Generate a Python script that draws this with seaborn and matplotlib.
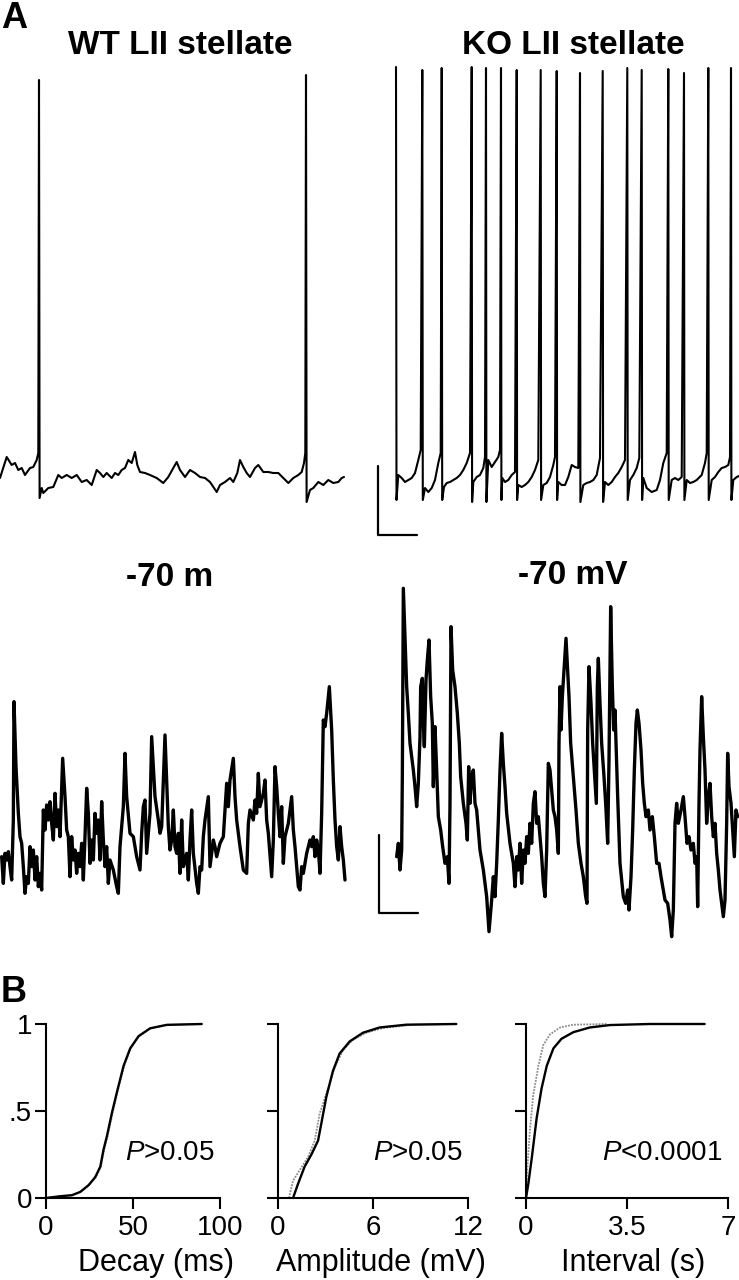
import matplotlib
matplotlib.use("Agg")
import matplotlib.pyplot as plt
import seaborn as sns
import pandas as pd

W, H = 739, 1280

# ---------------- panel A traces (picture units, v grows downward) ----------------
wt_spont = [
    (0, 478), (6.7, 457), (11.7, 465), (15, 463), (18.3, 470), (21.7, 468), (25, 475), (30, 468),
    (33.3, 467), (36.7, 460), (38.3, 453), (39, 80), (39.6, 498), (41.7, 488), (43.3, 493), (48.3, 488),
    (53.3, 487), (58.3, 475), (61.7, 478), (66.7, 475), (71.7, 478), (76.7, 475), (81.7, 482), (86.7, 480),
    (91.7, 485), (96.7, 470), (100, 473), (103.3, 477), (106.7, 473), (111.7, 478), (115, 473), (118.3, 475),
    (121.7, 470), (125, 468), (128.3, 460), (131.7, 463), (135, 452), (137.3, 465), (140, 472), (145, 473),
    (150, 475), (156.7, 478), (163.3, 483), (168.3, 477), (173.3, 468), (176.7, 462), (180, 470), (185, 477),
    (190, 470), (195, 473), (200, 477), (205, 478), (210, 482), (216.7, 492), (220, 485), (225, 482),
    (230, 478), (233.3, 482), (237.3, 473), (240, 460), (243.3, 467), (246.7, 473), (250, 477), (255, 468),
    (258.3, 465), (263.3, 472), (268.3, 472), (273.3, 473), (278.3, 473), (283.3, 478), (288.3, 483),
    (293.3, 478), (298.3, 475), (301.7, 472), (304, 463), (305.3, 453), (306, 75), (306.6, 502), (310, 490),
    (313.3, 488), (318.3, 482), (323.3, 485), (328.3, 480), (333.3, 483), (338.3, 482), (341.7, 478), (344, 477),
]

ko_spont = [
    (396, 67), (396.5, 500),
    (398.3, 475), (401.7, 478), (405, 482), (408.3, 480), (411.7, 478), (415, 473), (418.3, 460), (420.7, 450),
    (422.3, 70), (422.8, 500),
    (425, 488), (428.3, 492), (431.7, 488), (435, 480), (438.3, 463), (440.7, 453), (441.7, 68), (442.2, 500),
    (444, 487), (446.7, 483), (450, 482), (453.3, 480), (456.7, 478), (460, 475), (463.3, 470), (466.7, 463),
    (470, 453), (471.7, 67), (472.1, 502),
    (473.3, 482), (476.7, 477), (480, 475), (483.3, 468), (485, 457), (486, 68), (486.4, 502),
    (488.3, 460), (491.7, 467), (495, 462), (498.3, 457), (500, 450), (501, 68), (501.4, 500),
    (502.3, 478), (505, 482), (508.3, 480), (511.7, 475), (515, 472), (516.7, 70), (517.1, 500),
    (518.3, 485), (521.7, 487), (525, 485), (528.3, 482), (531.7, 477), (535, 470), (538.3, 460),
    (540.7, 70), (541.1, 500),
    (543.3, 485), (546.7, 483), (550, 477), (553.3, 465), (555, 457), (556.7, 71), (557.1, 500),
    (558.3, 482), (561.7, 485), (565, 485), (568.3, 477), (571.7, 465), (575, 467), (578.3, 468),
    (580, 73), (580.4, 502),
    (583.3, 485), (586.7, 483), (590, 482), (593.3, 480), (596.7, 475), (600, 458), (602.7, 71), (603.1, 502),
    (605, 482), (608.3, 485), (611.7, 482), (615, 477), (618.3, 473), (621.7, 467), (625, 460),
    (627.3, 68), (627.7, 500),
    (630, 480), (633.3, 475), (636.7, 468), (639.3, 458), (641.7, 70), (642.1, 500),
    (643.3, 478), (646.7, 488), (651.7, 492), (656.7, 490), (660, 480), (663.3, 463), (666.7, 453),
    (668.3, 69), (668.7, 500),
    (671.7, 480), (675, 478), (678.3, 480), (681.7, 477), (684, 73), (684.4, 500),
    (686.7, 480), (690, 483), (693.3, 482), (696.7, 480), (701.7, 475), (705, 463), (706.7, 453),
    (708.3, 68), (708.7, 500),
    (711.7, 480), (715, 477), (718.3, 472), (721.7, 468), (725, 467), (728.3, 465), (730, 457),
    (731, 68), (731.4, 500),
    (733.3, 480), (736.7, 477), (739, 476),
]

wt_hold = [
    (5, 530), (10, 610), (15, 520), (20, 540), (25, 515), (30, 560), (35, 600), (40, 420), (42, 65), (48, 260),
    (55, 400), (60, 470), (65, 490), (70, 560), (75, 640), (80, 590), (85, 610), (90, 500), (95, 560), (100, 510),
    (105, 600), (110, 530), (115, 620), (120, 580), (125, 630), (130, 390), (135, 450), (140, 375), (145, 420),
    (150, 365), (155, 430), (160, 480), (165, 340), (170, 440), (175, 390), (180, 470), (185, 320), (188, 235),
    (195, 350), (200, 450), (205, 470), (210, 590), (215, 470), (220, 540), (225, 510), (230, 580), (235, 520),
    (240, 560), (245, 490), (250, 600), (255, 470), (260, 325), (265, 400), (270, 550), (275, 480), (280, 540),
    (285, 400), (290, 460), (295, 420), (300, 540), (305, 365), (310, 480), (315, 560), (320, 500), (325, 610),
    (330, 540), (340, 570), (350, 620), (355, 640), (360, 500), (370, 380), (375, 220), (380, 350), (390, 460),
    (400, 470), (410, 530), (420, 570), (425, 460), (430, 380), (435, 360), (440, 520), (450, 400), (455, 170),
    (460, 260), (465, 350), (475, 420), (480, 460), (485, 440), (495, 165), (500, 300), (505, 440), (510, 510),
    (515, 480), (520, 390), (525, 500), (530, 520), (535, 460), (540, 580), (545, 420), (550, 560), (560, 520),
    (565, 600), (570, 480), (575, 390), (580, 520), (590, 610), (595, 640), (600, 560), (605, 570), (610, 470),
    (615, 420), (625, 350), (630, 560), (640, 480), (645, 500), (650, 530), (660, 490), (670, 470), (680, 310),
    (685, 380), (690, 300), (700, 235), (705, 350), (710, 420), (720, 500), (730, 570), (740, 580), (745, 430),
    (750, 390), (760, 420), (765, 360), (770, 400), (775, 280), (780, 380), (790, 340), (795, 300), (800, 420),
    (805, 460), (815, 590), (820, 480), (825, 260), (830, 320), (835, 400), (840, 470), (845, 380), (850, 550),
    (855, 470), (865, 430), (875, 350), (880, 450), (885, 500), (895, 620), (900, 630), (905, 560), (910, 580),
    (920, 520), (930, 480), (935, 500), (940, 470), (945, 530), (950, 480), (955, 510), (960, 580), (965, 400),
    (970, 120), (975, 140), (980, 100), (988, 20), (995, 150), (1000, 300), (1005, 420), (1010, 500),
    (1015, 540), (1020, 440), (1025, 500), (1030, 540), (1035, 600),
]

ko_hold = [
    (80, 860), (85, 820), (90, 900), (95, 840), (97, 620), (100, 55), (105, 200), (110, 350), (115, 430),
    (120, 520), (125, 560), (130, 600), (135, 650), (140, 710), (145, 640), (150, 500), (152, 350), (157, 325),
    (160, 460), (163, 530), (168, 330), (172, 270), (177, 210), (182, 380), (187, 460), (190, 650), (195, 470),
    (200, 600), (205, 740), (212, 780), (218, 830), (225, 880), (232, 860), (237, 940), (240, 700), (243, 170),
    (248, 300), (255, 350), (262, 430), (268, 520), (272, 620), (280, 700), (288, 760), (292, 810), (296, 590),
    (300, 700), (305, 620), (310, 600), (315, 700), (320, 720), (325, 780), (330, 840), (340, 900), (345, 940),
    (350, 980), (357, 1085), (365, 990), (370, 920), (375, 980), (380, 880), (385, 750), (390, 600), (395, 490),
    (400, 580), (405, 650), (410, 730), (420, 820), (430, 880), (435, 950), (440, 860), (445, 900), (450, 820),
    (455, 940), (460, 840), (465, 880), (470, 800), (475, 850), (480, 760), (485, 820), (490, 700), (495, 665),
    (500, 760), (505, 740), (510, 800), (515, 860), (520, 940), (525, 980), (530, 840), (535, 580), (540, 600),
    (545, 660), (550, 720), (555, 740), (560, 780), (565, 850), (567, 520), (570, 350), (573, 480), (577, 380),
    (582, 300), (588, 205), (593, 300), (597, 380), (602, 520), (610, 620), (618, 720), (625, 820), (633, 880),
    (640, 920), (647, 980), (651, 1000), (653, 480), (657, 290), (663, 400), (668, 520), (673, 600), (679, 700),
    (682, 350), (685, 265), (690, 400), (695, 520), (702, 620), (707, 700), (713, 820), (717, 570), (722, 110),
    (727, 350), (731, 480), (735, 420), (738, 520), (743, 680), (750, 880), (755, 930), (760, 980), (767, 1000),
    (773, 960), (777, 1020), (783, 920), (788, 780), (793, 600), (798, 460), (802, 420), (807, 460), (813, 540),
    (818, 640), (823, 700), (828, 740), (835, 720), (840, 780), (847, 740), (853, 800), (860, 880), (867, 880),
    (873, 920), (878, 950), (885, 990), (893, 1000), (900, 1050), (905, 1100), (910, 1020), (915, 760),
    (920, 700), (925, 760), (933, 720), (940, 680), (945, 740), (951, 820), (957, 800), (963, 840), (970, 820),
    (975, 880), (980, 860), (983, 1010), (987, 700), (990, 540), (995, 380), (1000, 500), (1005, 600),
    (1010, 760), (1015, 680), (1020, 640), (1025, 740), (1030, 800), (1035, 760), (1040, 850), (1045, 900),
    (1050, 960), (1055, 1000), (1060, 1040), (1065, 990), (1070, 760), (1073, 550), (1077, 650), (1083, 700),
    (1088, 780), (1093, 860), (1098, 720), (1103, 740),
]

ko_spont_bar = [(378, 466), (378, 535), (417, 535)]
ko_hold_bar = [(27, 795), (27, 1029), (144, 1029)]

# ---------------- panel B cumulative fractions ----------------
decay_wt = [(0, 0), (8.2, 0.01), (14.9, 0.016), (19.7, 0.035), (24.5, 0.074), (28.3, 0.12), (31.2, 0.18),
            (33.1, 0.28), (35.0, 0.355), (37.9, 0.49), (40.8, 0.61), (44.6, 0.76), (48.4, 0.86), (53.2, 0.93),
            (59.8, 0.975), (69.4, 0.995), (89.5, 1.0)]
decay_ko = [(0, 0), (8.5, 0.01), (15.2, 0.017), (20.0, 0.037), (24.8, 0.076), (28.6, 0.12), (31.5, 0.18),
            (33.5, 0.28), (35.4, 0.355), (38.3, 0.49), (41.1, 0.61), (44.9, 0.76), (48.6, 0.86), (53.5, 0.93),
            (60.0, 0.975), (69.0, 0.995), (89.5, 1.0)]
amp_wt = [(0.95, 0), (1.26, 0.08), (1.68, 0.18), (2.11, 0.25), (2.53, 0.33), (2.74, 0.43), (3.05, 0.58),
          (3.47, 0.73), (3.89, 0.83), (4.53, 0.90), (5.37, 0.95), (6.42, 0.98), (8.1, 0.996), (11.26, 1.0)]
amp_ko = [(0.69, 0), (0.95, 0.10), (1.37, 0.16), (1.89, 0.235), (2.32, 0.33), (2.63, 0.485), (3.05, 0.60),
          (3.58, 0.75), (4.11, 0.85), (4.74, 0.91), (5.58, 0.95), (6.63, 0.977), (8.53, 0.996), (11.26, 1.0)]
int_wt = [(0, 0), (0.08, 0.08), (0.20, 0.23), (0.37, 0.46), (0.54, 0.63), (0.72, 0.76), (0.95, 0.86),
          (1.23, 0.915), (1.64, 0.953), (2.21, 0.98), (2.91, 0.994), (4.29, 1.0), (6.19, 1.0)]
int_ko = [(0, 0), (0.05, 0.18), (0.14, 0.40), (0.25, 0.59), (0.43, 0.76), (0.6, 0.88), (0.83, 0.94),
          (1.18, 0.98), (1.64, 0.996), (2.79, 1.0)]

frac_ticks = [0, 0.5, 1]
frac_labels = ["0", ".5", "1"]
decay_ticks = [0, 50, 100]
amp_ticks = [0, 6, 12]
int_ticks = [0, 3.5, 7]
int_labels = ["0", "3.5", "7"]

sns.set_theme(style="ticks")
plt.rcParams["font.family"] = ["Liberation Sans", "DejaVu Sans"]
plt.rcParams["mathtext.fontset"] = "custom"
plt.rcParams["mathtext.it"] = "Liberation Sans:italic"
plt.rcParams["mathtext.rm"] = "Liberation Sans"
for key in ("text.color", "axes.labelcolor", "xtick.color", "ytick.color", "axes.edgecolor"):
    plt.rcParams[key] = "black"

fig = plt.figure(figsize=(W / 100, H / 100), dpi=100)


def px_axes(left, top, right, bottom):
    return fig.add_axes([left / W, 1 - bottom / H, (right - left) / W, (bottom - top) / H])


def draw(ax, pts, lw, color="black", ls="-"):
    df = pd.DataFrame(pts, columns=["t", "v"])
    sns.lineplot(data=df, x="t", y="v", sort=False, estimator=None, color=color,
                 lw=lw, ls=ls, ax=ax, clip_on=False)


def ftext(x, y, s, size, **kw):
    fig.text(x / W, 1 - y / H, s, fontsize=size, ha="center", va="center", color="black", **kw)


# top row: spontaneous firing
ax = px_axes(0, 60, 350, 510)
draw(ax, wt_spont, 1.5)
ax.set_xlim(0, 350)
ax.set_ylim(510, 60)
ax.set_axis_off()

ax = px_axes(370, 60, 739, 540)
draw(ax, ko_spont, 1.5)
draw(ax, ko_spont_bar, 1.6)
ax.set_xlim(370, 739)
ax.set_ylim(540, 60)
ax.set_axis_off()

# middle row: held at -70 mV
ax = px_axes(0, 680, 370, 900)
draw(ax, wt_hold, 2.4)
ax.set_xlim(0, 1110)
ax.set_ylim(660, 0)
ax.set_axis_off()

ax = px_axes(370, 570, 739, 950)
draw(ax, ko_hold, 2.4)
draw(ax, ko_hold_bar, 1.6)
ax.set_xlim(0, 1107)
ax.set_ylim(1140, 0)
ax.set_axis_off()

ftext(14, 18, "A", 26, fontweight="bold")
ftext(180, 45, "WT LII stellate", 24, fontweight="bold")
ftext(573, 45, "KO LII stellate", 24, fontweight="bold")
ftext(170, 577, "-70 m", 24, fontweight="bold")
ftext(573, 576, "-70 mV", 24, fontweight="bold")
ftext(14, 992, "B", 26, fontweight="bold")

# bottom row: cumulative distributions
panels = [
    ((46, 220), decay_wt, decay_ko, 100, decay_ticks, ["0", "50", "100"], "Decay (ms)", "$\\mathit{P}$>0.05", 0.63),
    ((278, 468), amp_wt, amp_ko, 12, amp_ticks, ["0", "6", "12"], "Amplitude (mV)", "$\\mathit{P}$>0.05", 0.54),
    ((526, 728), int_wt, int_ko, 7, int_ticks, int_labels, "Interval (s)", "$\\mathit{P}$<0.0001", 0.53),
]
for i, ((l, r), solid, dotted, xmax, ticks, labels, xlabel, ptxt, lab_x) in enumerate(panels):
    ax = px_axes(l, 1024, r, 1198)
    draw(ax, dotted, 1.3, color="#8c8c8c", ls=(0, (1, 0.7)))
    draw(ax, solid, 1.7)
    ax.set_xlim(0, xmax)
    ax.set_ylim(0, 1)
    ax.set_xticks(ticks)
    ax.set_xticklabels(labels)
    ax.set_yticks(frac_ticks)
    ax.set_yticklabels(frac_labels if i == 0 else [])
    ax.set_xlabel(xlabel, fontsize=22)
    ax.xaxis.set_label_coords(lab_x, -0.29)
    ax.set_ylabel("")
    sns.despine(ax=ax)
    for s in ("left", "bottom"):
        ax.spines[s].set_linewidth(1.5)
        ax.spines[s].set_color("black")
    ax.tick_params(axis="x", length=8, width=1.5, color="black", labelsize=20, pad=4)
    ax.tick_params(axis="y", length=8, width=1.5, color="black", labelsize=20, pad=2)
    ax.text(0.97, 0.26, ptxt, transform=ax.transAxes, fontsize=20, ha="right", va="center")

fig.savefig("out.png", dpi=100)
